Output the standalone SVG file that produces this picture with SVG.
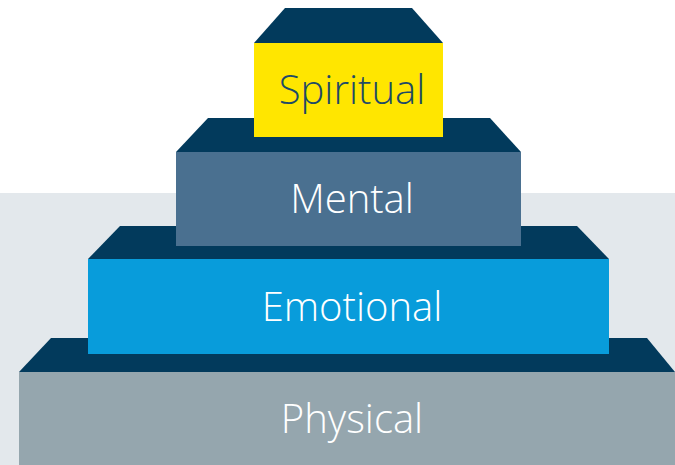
<svg xmlns="http://www.w3.org/2000/svg" width="675" height="465" viewBox="0 0 675 465">
<style>
.cap{fill:#023a5c}
.lbl{font-family:"Open Sans","Liberation Sans",sans-serif;font-weight:300;font-size:40px;text-anchor:middle}
</style>
<rect x="0" y="0" width="675" height="465" fill="#ffffff"/>
<rect x="0" y="193" width="675" height="272" fill="#e3e8ec"/>
<g id="physical">
<polygon class="cap" points="51,338 647,338 675,372 19,372"/>
<rect x="19" y="372" width="656" height="93" fill="#95a6ae"/>
<text class="lbl" x="352" y="433" fill="#ffffff">Physical</text>
</g>
<g id="emotional">
<polygon class="cap" points="120,226 577,226 609,259 88,259"/>
<rect x="88" y="259" width="521" height="95" fill="#089cdb"/>
<text class="lbl" x="352" y="321" fill="#ffffff">Emotional</text>
</g>
<g id="mental">
<polygon class="cap" points="208,118 490,118 521,152 176,152"/>
<rect x="176" y="152" width="345" height="94" fill="#4a7090"/>
<text class="lbl" x="352" y="213" fill="#ffffff">Mental</text>
</g>
<g id="spiritual">
<polygon class="cap" points="285,8 412,8 443,43 254,43"/>
<rect x="254" y="43" width="189" height="94" fill="#ffe600"/>
<text class="lbl" x="352" y="104" fill="#1e4a66">Spiritual</text>
</g>
<g id="connectors"/>
</svg>
